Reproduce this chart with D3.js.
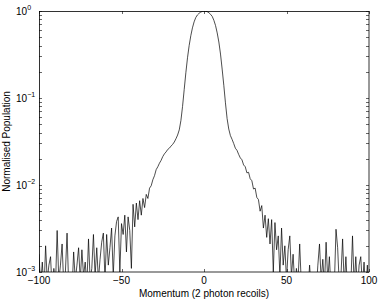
<!DOCTYPE html>
<html>
<head>
<meta charset="utf-8">
<script src="https://cdn.jsdelivr.net/npm/d3@7"></script>
<style>
  body { margin: 0; background: #fff; }
  text { font-family: "Liberation Sans", Arial, sans-serif; fill: #000; }
</style>
</head>
<body>
<div id="chart"></div>
<script>
// momentum in units of 2 photon recoils, one sample per unit
var momentum = d3.range(-100, 101);

// normalised population, momentum -100 .. 100
var popLeftTail = [
  0.0016, 0.0007, 0.0013, 0.0006, 0.0020, 0.0008, 0.0012, 0.0015, 0.0006, 0.0011,
  0.0007, 0.0030, 0.0008, 0.0012, 0.0021, 0.0007, 0.0010, 0.0028, 0.0007, 0.0009,
  0.0006, 0.0017, 0.0008, 0.0012, 0.0019, 0.0008, 0.0018, 0.0009, 0.0013, 0.0007,
  0.0024, 0.0008, 0.0011, 0.0027, 0.0009, 0.0019, 0.0008, 0.0014, 0.0022, 0.0028,
  0.0008, 0.0027, 0.0012, 0.0019, 0.0032, 0.0009, 0.0026, 0.0038, 0.0043, 0.0010,
  0.0036, 0.0027, 0.0045, 0.0017, 0.0043, 0.0030, 0.0011, 0.0060, 0.0033, 0.0062,
  0.0040, 0.0066, 0.0045, 0.0070
]; // -100 .. -37
var popCore = [
  0.0055, 0.0078, 0.0070, 0.0092, 0.0098, 0.0115, 0.0128, 0.0150, 0.0162, 0.0178,
  0.0192, 0.0212, 0.0228, 0.0240, 0.0256, 0.0265, 0.0280, 0.0293, 0.0312, 0.0340,
  0.0375, 0.0430, 0.055, 0.080, 0.125, 0.195, 0.29, 0.40, 0.52, 0.64,
  0.75, 0.84, 0.90, 0.94, 0.97, 0.99, 1.00,
  0.995, 0.98, 0.955, 0.915, 0.865, 0.78, 0.68, 0.56, 0.44, 0.32,
  0.215, 0.14, 0.088, 0.058, 0.044, 0.037, 0.0335, 0.030, 0.0265, 0.0250,
  0.0225, 0.0205, 0.0195, 0.0170, 0.0162, 0.0138, 0.0140, 0.0118, 0.0112, 0.0090,
  0.0092, 0.0072, 0.0068, 0.0050, 0.0058
]; // -36 .. 35
var popRightTail = [
  0.0032, 0.0045, 0.0025, 0.0041, 0.0021, 0.0040, 0.0010, 0.0037, 0.0018, 0.0026,
  0.0009, 0.0032, 0.0012, 0.0020, 0.0008, 0.0018, 0.0026, 0.0009, 0.0016, 0.0007,
  0.0011, 0.0008, 0.0021, 0.0007, 0.0010, 0.0006, 0.0007, 0.0006, 0.0012, 0.0006,
  0.0005, 0.0010, 0.0006, 0.0012, 0.0021, 0.0008, 0.0014, 0.0007, 0.0022, 0.0008,
  0.0015, 0.0006, 0.0009, 0.0007, 0.0031, 0.0019, 0.0007, 0.0009, 0.0024, 0.0007,
  0.0015, 0.0006, 0.0010, 0.0007, 0.0026, 0.0007, 0.0015, 0.0006, 0.0012, 0.0015,
  0.0007, 0.0013, 0.0006, 0.0012, 0.0005
]; // 36 .. 100
var population = popLeftTail.concat(popCore, popRightTail);

var xTicks = [-100, -50, 0, 50, 100];
var yTicks = [1e-3, 1e-2, 1e-1, 1];

var width = 381, height = 300;
var margin = { top: 11, right: 12, bottom: 28, left: 39 };
var w = width - margin.left - margin.right;
var h = height - margin.top - margin.bottom;

var svg = d3.select("#chart").append("svg")
    .attr("width", width)
    .attr("height", height);

var g = svg.append("g")
    .attr("transform", "translate(" + margin.left + "," + margin.top + ")");

var x = d3.scaleLinear().domain([-100, 100]).range([0, w]);
var y = d3.scaleLog().domain([1e-3, 1]).range([h, 0]);

g.append("clipPath").attr("id", "clip")
  .append("rect").attr("width", w).attr("height", h);

var data = momentum.map(function (m, i) { return { m: m, p: population[i] }; });

g.append("path")
    .datum(data)
    .attr("clip-path", "url(#clip)")
    .attr("fill", "none")
    .attr("stroke", "#000")
    .attr("stroke-width", 0.7)
    .attr("d", d3.line()
      .x(function (d) { return x(d.m); })
      .y(function (d) { return y(d.p); }));

// minor ticks of the log axis
var minor = [];
[1e-3, 1e-2, 1e-1].forEach(function (dec) {
  for (var k = 2; k <= 9; k++) minor.push(dec * k);
});

var tl = 3;
var ticks = g.append("g").attr("stroke", "#000").attr("stroke-width", 0.6);
yTicks.concat(minor).forEach(function (v) {
  var yy = Math.round(y(v)) + 0.5;
  ticks.append("line").attr("x1", 0).attr("x2", tl).attr("y1", yy).attr("y2", yy);
  ticks.append("line").attr("x1", w).attr("x2", w - tl).attr("y1", yy).attr("y2", yy);
});
xTicks.forEach(function (v) {
  var xx = Math.round(x(v)) + 0.5;
  ticks.append("line").attr("x1", xx).attr("x2", xx).attr("y1", h).attr("y2", h - tl);
  ticks.append("line").attr("x1", xx).attr("x2", xx).attr("y1", 0).attr("y2", tl);
});

g.append("rect")
    .attr("x", 0.5).attr("y", 0.5)
    .attr("width", w - 0.5).attr("height", h - 0.5)
    .attr("fill", "none")
    .attr("stroke", "#000")
    .attr("stroke-width", 0.8);

// tick labels
g.selectAll(".xl").data(xTicks).enter().append("text")
    .attr("x", function (d) { return x(d); })
    .attr("y", h + 12)
    .attr("text-anchor", "middle")
    .style("font-size", "10px")
    .text(function (d) { return d < 0 ? "\u2212" + (-d) : d; });

var yl = g.selectAll(".yl").data(yTicks).enter().append("text")
    .attr("x", -13)
    .attr("y", function (d) { return y(d) + 4; })
    .attr("text-anchor", "end")
    .style("font-size", "10px");
yl.append("tspan").text("10");
yl.append("tspan")
    .attr("dy", -5)
    .style("font-size", "7px")
    .text(function (d) { return d3.format("d")(Math.round(Math.log10(d))).replace("-", "\u2212"); });
// keep the exponent left-aligned after "10"
yl.attr("text-anchor", "start").attr("x", -23);

// axis titles
svg.append("text")
    .attr("x", margin.left + x(0))
    .attr("y", height - 3)
    .attr("text-anchor", "middle")
    .style("font-size", "10px")
    .text("Momentum (2 photon recoils)");

svg.append("text")
    .attr("transform", "translate(10," + (margin.top + h / 2) + ") rotate(-90)")
    .attr("text-anchor", "middle")
    .style("font-size", "10px")
    .text("Normalised Population");
</script>
</body>
</html>
